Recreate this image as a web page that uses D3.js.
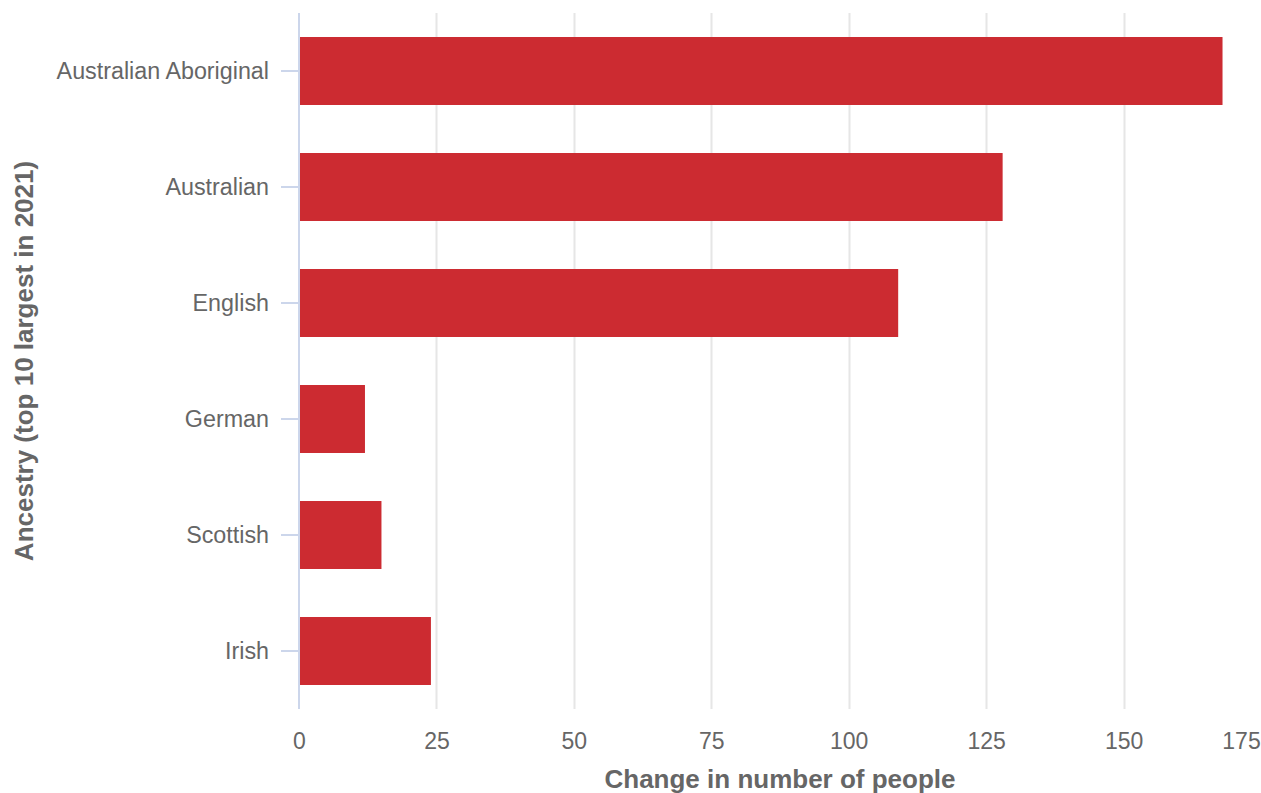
<!DOCTYPE html>
<html><head><meta charset="utf-8">
<script src="https://cdn.jsdelivr.net/npm/d3@7"></script>
<style>
html,body{margin:0;padding:0;background:#fff;}
text{font-family:"Liberation Sans",Arial,sans-serif;}
</style></head>
<body><svg id="c" width="1261" height="793"></svg>
<script>
const categories = ["Australian Aboriginal","Australian","English","German","Scottish","Irish"];
const values = [168, 128, 109, 12, 15, 24];
const xTicks = [0,25,50,75,100,125,150,175];
const xTitle = "Change in number of people";
const yTitle = "Ancestry (top 10 largest in 2021)";

const svg = d3.select("#c");
const pLeft = 299, pRight = 1261, pTop = 13, pBottom = 709;
const x = d3.scaleLinear().domain([0,175]).range([pLeft,pRight]);
const y = d3.scaleBand().domain(categories).range([pTop,pBottom]).paddingInner(0.414).paddingOuter(0.207);

// gridlines (none at the axis origin or at the clipped right edge)
svg.append("g").selectAll("line").data(xTicks.filter(d=>d>0 && d<175)).join("line")
  .attr("x1",d=>Math.round(x(d))+0.5).attr("x2",d=>Math.round(x(d))+0.5)
  .attr("y1",pTop).attr("y2",pBottom).attr("stroke","#e6e6e6").attr("stroke-width",2);

// bars
svg.append("g").selectAll("rect").data(categories).join("rect")
  .attr("x",x(0)+1).attr("y",d=>y(d))
  .attr("width",(d,i)=>x(values[i])-x(0)-1).attr("height",y.bandwidth())
  .attr("fill","#cc2b31");

// y axis
const yAxis = d3.axisLeft(y).tickSize(18).tickPadding(12);
const gy = svg.append("g").attr("transform",`translate(${pLeft},0)`).call(yAxis);
gy.select(".domain").attr("stroke","#ccd6eb").attr("stroke-width",2).attr("d",`M0,${pTop}V${pBottom}`);
gy.selectAll(".tick line").attr("stroke","#ccd6eb").attr("stroke-width",2);
gy.selectAll(".tick text").attr("fill","#666666").style("font-size","23.3px").attr("dy","0.35em");

// x axis
const xAxis = d3.axisBottom(x).tickValues(xTicks).tickSize(0).tickPadding(24);
const gx = svg.append("g").attr("transform",`translate(0,${pBottom})`).call(xAxis);
gx.select(".domain").remove();
gx.selectAll(".tick text").attr("fill","#666666").style("font-size","23px")
  .attr("dx",d=>d===175?-20:0);

svg.append("text").attr("x",(pLeft+pRight)/2).attr("y",788).attr("text-anchor","middle")
  .attr("fill","#666666").style("font-size","26px").style("font-weight","bold").text(xTitle);
svg.append("text").attr("transform",`translate(33,${(pTop+pBottom)/2}) rotate(-90)`).attr("text-anchor","middle")
  .attr("fill","#666666").style("font-size","26px").style("font-weight","bold").text(yTitle);
</script></body></html>
